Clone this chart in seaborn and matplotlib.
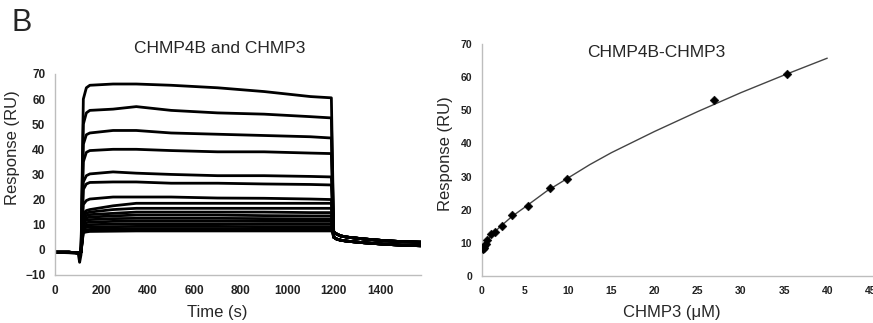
"""SPR sensorgrams and steady-state binding curve for CHMP4B / CHMP3."""

import matplotlib
import numpy as np
import pandas as pd
import seaborn as sns

matplotlib.use("Agg")
import matplotlib.pyplot as plt

# --- sensorgram data (left panel) ---------------------------------------
baseline_t = [0, 60, 100, 106, 112]
baseline_y = [-1.0, -1.0, -1.2, -1.5, -1.0]
dip_curve_y = [-1.0, -1.2, -1.5, -5.0, -2.0]  # curve with injection dip

assoc_t = [122, 135, 150, 250, 350, 500, 700, 900, 1100, 1190]
assoc_levels = [
    [60.0, 64.5, 65.5, 66.0, 66.0, 65.5, 64.5, 63.0, 61.0, 60.5],
    [50.0, 54.5, 55.5, 56.0, 57.0, 55.5, 54.5, 54.0, 53.0, 52.5],
    [42.0, 45.8, 46.5, 47.5, 47.5, 46.5, 46.0, 45.5, 45.0, 44.5],
    [35.0, 38.8, 39.5, 40.0, 40.0, 39.5, 39.0, 39.0, 38.5, 38.3],
    [27.0, 29.5, 30.2, 31.0, 30.5, 30.0, 29.5, 29.5, 29.2, 29.0],
    [24.0, 26.2, 26.8, 27.0, 27.0, 26.5, 26.5, 26.2, 26.0, 25.8],
    [18.0, 19.6, 20.2, 21.0, 21.0, 21.0, 20.6, 20.5, 20.2, 20.0],
    [14.5, 15.6, 16.0, 17.5, 18.5, 18.5, 18.5, 18.5, 18.5, 18.5],
    [13.5, 14.6, 15.0, 16.0, 16.5, 16.5, 16.5, 16.5, 16.5, 16.5],
    [12.5, 13.6, 14.0, 14.5, 15.0, 15.0, 15.0, 15.0, 14.8, 14.8],
    [11.8, 12.7, 13.0, 13.5, 13.8, 13.8, 13.8, 13.6, 13.5, 13.5],
    [11.0, 11.8, 12.0, 12.4, 12.5, 12.5, 12.5, 12.4, 12.3, 12.3],
    [10.0, 10.8, 11.0, 11.3, 11.4, 11.4, 11.4, 11.3, 11.3, 11.3],
    [9.2, 9.8, 10.0, 10.2, 10.3, 10.3, 10.3, 10.2, 10.2, 10.2],
    [8.3, 8.9, 9.0, 9.2, 9.3, 9.3, 9.3, 9.2, 9.2, 9.2],
    [7.5, 7.9, 8.1, 8.3, 8.4, 8.4, 8.4, 8.3, 8.3, 8.3],
    [6.8, 7.1, 7.3, 7.4, 7.5, 7.5, 7.5, 7.5, 7.5, 7.5],
]

dissoc_t = [1200, 1212, 1230, 1260, 1330, 1420, 1500, 1575]
dissoc_upper = [7.0, 6.3, 5.5, 5.0, 4.3, 3.6, 3.2, 3.0]
dissoc_lower = [5.0, 4.3, 3.8, 3.4, 2.8, 2.2, 1.8, 1.6]

# --- steady-state binding (right panel) ---------------------------------
conc_um = [0.1, 0.2, 0.3, 0.45, 0.6, 1.0, 1.5, 2.3, 3.5, 5.3, 7.9, 9.9, 26.9, 35.3]
response_ru = [8.0, 8.5, 9.0, 9.8, 10.8, 12.8, 13.3, 15.0, 18.3, 21.0, 26.5, 29.3, 53.0, 60.8]
fit_conc = [0.0, 0.5, 1.0, 2.0, 3.5, 5.0, 7.5, 10.0, 12.5, 15.0, 20.0, 25.0, 30.0, 35.0, 40.0]
fit_resp = [7.0, 10.0, 12.0, 14.6, 18.0, 20.8, 25.6, 29.6, 33.6, 37.2, 43.6, 49.6, 55.3, 60.6, 65.7]

sns.set_style("white")
plt.rcParams["font.family"] = ["Liberation Sans", "DejaVu Sans"]

rows = []
for i, levels in enumerate(assoc_levels):
    base = dip_curve_y if i == 0 else baseline_y
    tail = dissoc_upper if i % 2 == 0 else dissoc_lower
    ts = baseline_t + assoc_t + dissoc_t
    ys = base + levels + tail
    for t, y in zip(ts, ys):
        rows.append({"curve": i, "time": t, "response": y})
sensor = pd.DataFrame(rows)

fig = plt.figure(figsize=(8.73, 3.23), dpi=100)
ax1 = fig.add_axes([0.063, 0.149, 0.419, 0.622])
ax2 = fig.add_axes([0.552, 0.1455, 0.448, 0.7185])

sns.lineplot(data=sensor, x="time", y="response", units="curve", estimator=None,
             color="black", linewidth=2.0, sort=False, ax=ax1)
ax1.set_xlim(0, 1575)
ax1.set_ylim(-10, 70)
ax1.set_xticks(np.arange(0, 1401, 200))
ax1.set_yticks(np.arange(-10, 71, 10))

sns.lineplot(x=fit_conc, y=fit_resp, color="#444444", linewidth=1.0, ax=ax2)
sns.scatterplot(x=conc_um, y=response_ru, color="black", marker="D", s=20,
                edgecolor="black", ax=ax2, zorder=3)
ax2.set_xlim(0, 45.3)
ax2.set_ylim(0, 70)
ax2.set_xticks(np.arange(0, 46, 5))
ax2.set_yticks(np.arange(0, 71, 10))

for ax in (ax1, ax2):
    sns.despine(ax=ax)
    for side in ("left", "bottom"):
        ax.spines[side].set_color("#bdbdbd")
        ax.spines[side].set_linewidth(1.0)
    ax.tick_params(axis="both", direction="out", length=3, width=0.8,
                   color="#bdbdbd", labelsize=8.5, labelcolor="#222222", pad=4)
    for lab in ax.get_xticklabels() + ax.get_yticklabels():
        lab.set_fontweight("bold")
ax2.tick_params(axis="both", labelsize=7.5)

ax1.set_title("CHMP4B and CHMP3", fontsize=12.5, x=0.45, pad=15)
ax1.set_xlabel("Time (s)", fontsize=12)
ax1.set_ylabel("Response (RU)", fontsize=12)
ax1.xaxis.set_label_coords(0.443, -0.15)
ax1.yaxis.set_label_coords(-0.095, 0.632)

ax2.text(0.445, 0.963, "CHMP4B-CHMP3", transform=ax2.transAxes,
         ha="center", va="center", fontsize=12.5)
ax2.set_xlabel("CHMP3 (\u03bcM)", fontsize=12)
ax2.set_ylabel("Response (RU)", fontsize=12)
ax2.xaxis.set_label_coords(0.486, -0.125)
ax2.yaxis.set_label_coords(-0.075, 0.526)

fig.text(0.013, 0.975, "B", fontsize=22, ha="left", va="top")

fig.savefig("out.png", dpi=100)
plt.close(fig)
